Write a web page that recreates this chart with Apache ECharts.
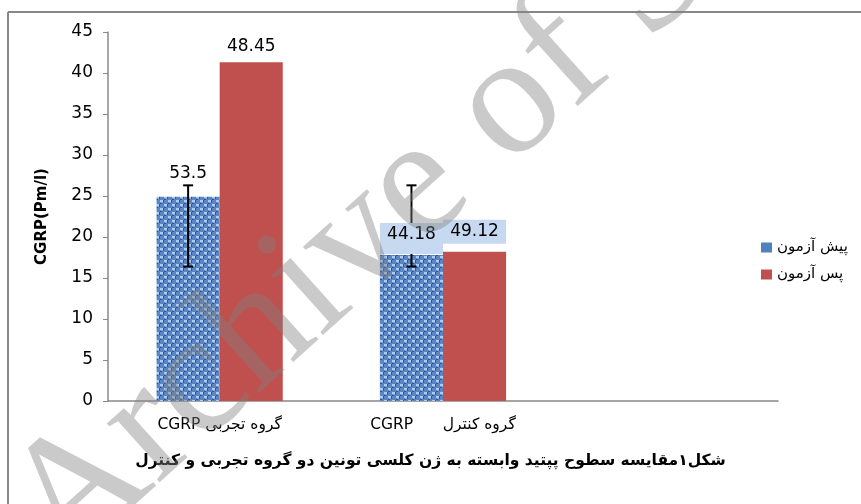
<!DOCTYPE html>
<html>
<head>
<meta charset="utf-8">
<script src="https://cdn.jsdelivr.net/npm/echarts@6/dist/echarts.min.js"></script>
<style>html,body{margin:0;padding:0;background:#fff}#c{width:861px;height:504px}</style>
</head>
<body>
<div id="c"></div>
<script>
const categories = ['CGRP گروه تجربی', 'CGRP      گروه کنترل', ''];
const seriesNames = ['پیش آزمون', 'پس آزمون'];
const preValues = [24.9, 17.8, null];
const postValues = [41.3, 18.2, null];
const preLabels = ['53.5', '44.18', ''];
const postLabels = ['48.45', '49.12', ''];
const errLow = [16.4, 16.4, null];
const errHigh = [26.3, 26.3, null];
const yTicks = [0, 5, 10, 15, 20, 25, 30, 35, 40, 45];
const yName = 'CGRP(Pm/l)';
const caption = 'شکل۱مقایسه سطوح پپتید وابسته به ژن کلسی تونین دو گروه تجربی و کنترل';
const watermark = 'Archive of SID';

function makeWeave() {
  const c = document.createElement('canvas');
  c.width = 8; c.height = 8;
  const g = c.getContext('2d');
  g.fillStyle = '#5a86c6'; g.fillRect(0, 0, 8, 8);
  g.fillStyle = '#b0cbf0'; g.fillRect(0, 0, 3, 2); g.fillRect(4, 4, 3, 2);
  g.fillStyle = '#86a9dc'; g.fillRect(1, 2, 2, 1); g.fillRect(5, 6, 2, 1);
  g.fillStyle = '#2f5794'; g.fillRect(3, 0, 1, 3); g.fillRect(7, 4, 1, 3);
  g.fillRect(0, 3, 2, 1); g.fillRect(4, 7, 2, 1);
  return c;
}
const weave = makeWeave();
const GAP = 0.435;
const valueSets = [preValues, postValues];
const labelSets = [preLabels, postLabels];

// label items: [categoryIndex, value, seriesIndex]
const labelItems = [];
valueSets.forEach((vals, s) => vals.forEach((v, i) => { if (v != null) labelItems.push([i, v, s]); }));

const chart = echarts.init(document.getElementById('c'), null, {renderer: 'canvas'});
chart.setOption({
  animation: false,
  textStyle: {fontFamily: 'DejaVu Sans'},
  grid: {left: 108, right: 83, top: 32, bottom: 103, containLabel: false},
  legend: {
    orient: 'vertical', left: 756, top: 235, itemWidth: 11, itemHeight: 10, itemGap: 12,
    icon: 'rect',
    textStyle: {fontFamily: 'DejaVu Sans', fontSize: 15, color: '#000'},
    data: [
      {name: seriesNames[0], itemStyle: {color: '#4f81bd'}},
      {name: seriesNames[1], itemStyle: {color: '#c0504d'}}
    ]
  },
  xAxis: {
    type: 'category', data: categories,
    axisLine: {lineStyle: {color: '#888', width: 1.5}},
    axisTick: {show: false},
    axisLabel: {fontFamily: 'DejaVu Sans', fontSize: 15.5, color: '#000', margin: 16}
  },
  yAxis: {
    type: 'value', min: 0, max: 45, interval: 5,
    name: yName, nameLocation: 'middle', nameGap: 58,
    nameTextStyle: {fontFamily: 'DejaVu Sans', fontWeight: 'bold', fontSize: 15, color: '#000'},
    axisLine: {show: true, lineStyle: {color: '#888', width: 1.5}},
    axisTick: {show: true, length: 5, lineStyle: {color: '#888'}},
    splitLine: {show: false},
    axisLabel: {fontSize: 17, color: '#000', margin: 15,
      formatter: v => yTicks.includes(v) ? String(v) : ''}
  },
  series: [
    {
      name: seriesNames[0], type: 'bar', z: 2, barGap: '0%', barCategoryGap: (GAP * 100) + '%',
      itemStyle: {color: {image: weave, repeat: 'repeat'}},
      data: preValues
    },
    {
      name: seriesNames[1], type: 'bar', z: 2,
      itemStyle: {color: '#c0504d'},
      data: postValues
    },
    {
      type: 'custom', name: 'err', silent: true, z: 3,
      data: errLow.map((l, i) => [i, l, errHigh[i]]).filter(d => d[1] != null),
      renderItem: (params, api) => {
        const band = api.size([1, 0])[0];
        const c = api.coord([api.value(0), 0]);
        const x = c[0] - band * (1 - GAP) / 4;
        const lo = api.coord([api.value(0), api.value(1)])[1];
        const hi = api.coord([api.value(0), api.value(2)])[1];
        const st = {stroke: '#000', lineWidth: 2};
        return {type: 'group', children: [
          {type: 'line', shape: {x1: x, y1: lo, x2: x, y2: hi}, style: st},
          {type: 'line', shape: {x1: x - 5, y1: lo, x2: x + 5, y2: lo}, style: st},
          {type: 'line', shape: {x1: x - 5, y1: hi, x2: x + 5, y2: hi}, style: st}
        ]};
      }
    },
    {
      type: 'custom', name: 'labels', silent: true, z: 4,
      data: labelItems,
      renderItem: (params, api) => {
        const ci = api.value(0), v = api.value(1), s = api.value(2);
        const band = api.size([1, 0])[0];
        const bw = band * (1 - GAP) / 2;
        const c = api.coord([ci, v]);
        const x = c[0] + (s === 0 ? -bw / 2 : bw / 2);
        const txt = labelSets[s][ci];
        const boxed = ci === 1;
        const tall = boxed && s === 0;
        const dist = boxed ? (tall ? 1 : 8) : (s === 0 ? 15 : 7);
        const style = {text: txt, x: x, y: c[1] - dist, align: 'center', verticalAlign: 'bottom',
          fontFamily: 'DejaVu Sans', fontSize: 17, fill: '#000'};
        if (boxed) {
          Object.assign(style, {backgroundColor: '#c6d9f1',
            padding: [3, 4, tall ? 11 : 4, 4], width: bw - 8});
        }
        return {type: 'text', style: style};
      }
    }
  ],
  graphic: [
    {type: 'line', shape: {x1: 8, y1: 12, x2: 861, y2: 12}, style: {stroke: '#888', lineWidth: 2}, silent: true},
    {type: 'line', shape: {x1: 8, y1: 12, x2: 8, y2: 504}, style: {stroke: '#888', lineWidth: 2}, silent: true},
    {type: 'text', left: 'center', top: 453, style: {text: caption, font: 'bold 15.5px DejaVu Sans', fill: '#000'}, silent: true},
    {type: 'text', x: 92, y: 598, rotation: 42 * Math.PI / 180, z: 100, silent: true,
      style: {text: watermark, font: '172px Liberation Serif', fill: 'rgba(128,128,128,0.42)', textVerticalAlign: 'bottom'}}
  ]
});
</script>
</body>
</html>
